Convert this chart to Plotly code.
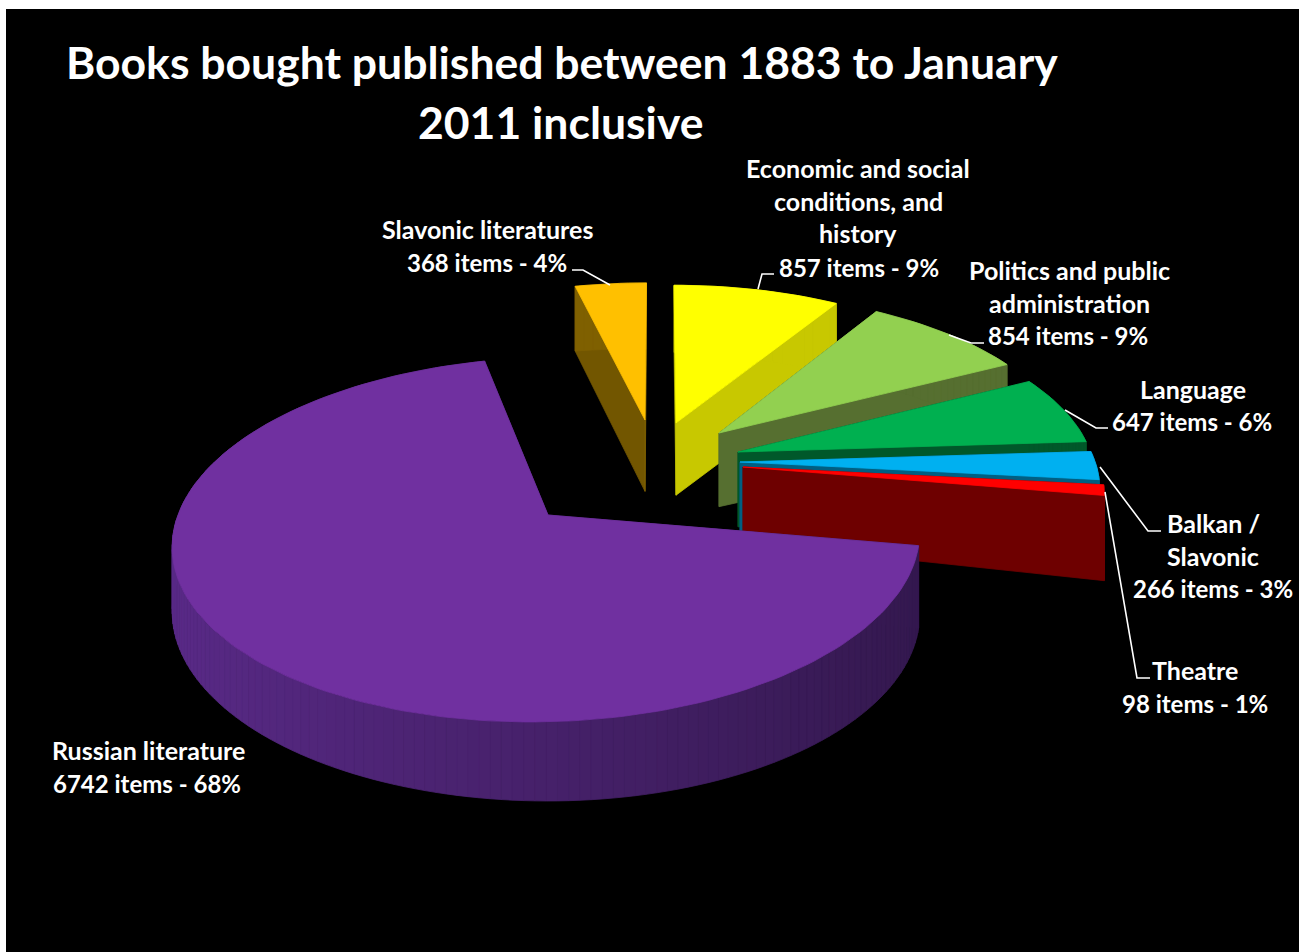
import numpy as np
import plotly.graph_objects as go

# ---- data ----
categories = ["Slavonic literatures", "Economic and social conditions, and history",
              "Politics and public administration", "Language", "Balkan / Slavonic",
              "Theatre", "Russian literature"]
items = [368, 857, 854, 647, 266, 98, 6742]
percent_labels = ["4%", "9%", "9%", "6%", "3%", "1%", "68%"]
title_lines = ["Books bought published between 1883 to January", "2011 inclusive"]

# ---- style ----
top_colors = ["#FFC000", "#FFFF00", "#92D050", "#00B050", "#00B0F0", "#FF0000", "#7030A0"]
wall_colors = ["#7F6000", "#C8C800", "#566F30", "#00582A", "#005F82", "#6E0000", "#4A2370"]
apex = [(645, 420), (676, 423), (719, 433), (738, 452), (740, 462), (743, 467), (548, 515)]
START_ANGLE = -13.5      # degrees clockwise from north where the first slice starts
CX, CY, A, B, K = 660.0, 515.0, 370.0, 179.0, 0.135
XP = 1.0                 # share of the perspective that acts on x
WHITE = "#FFFFFF"
FONT = "Lato"


def project(u, v):
    s = 1.0 / (1.0 - K * v)
    return CX + A * u * (1 + XP * (s - 1)), CY + B * v * s


def unproject(sx, sy):
    w = (sy - CY) / B
    v = w / (1 + K * w)
    s = 1.0 / (1.0 - K * v)
    return (sx - CX) / (A * (1 + XP * (s - 1))), v


def depth(u, v):
    s = 1.0 / (1.0 - K * v)
    return 75.0 * s ** 0.6 * (1 + 0.12 * np.clip(u, -1.3, 1.3))


def shade(hex_color, f):
    r, g, b = (int(hex_color[i:i + 2], 16) for i in (1, 3, 5))
    return f"rgb({int(r * f)},{int(g * f)},{int(b * f)})"


fig = go.Figure()


def poly(xs, ys, color, name):
    fig.add_trace(go.Scatter(x=list(xs) + [xs[0]], y=list(ys) + [ys[0]], mode="lines", fill="toself",
                             fillcolor=color, line=dict(color=color, width=0.8),
                             hoverinfo="text", text=name, showlegend=False))


def wall(p, q, color, name):
    (u0, v0), (u1, v1) = p, q
    x0, y0 = project(u0, v0)
    x1, y1 = project(u1, v1)
    poly([x0, x1, x1, x0], [y0, y1, y1 + depth(u1, v1), y0 + depth(u0, v0)], color, name)


sweeps = 360.0 * np.array(items) / np.sum(items)
starts = START_ANGLE + np.concatenate([[0.0], np.cumsum(sweeps)[:-1]])

for i, name in enumerate(categories):
    u0, v0 = unproject(*apex[i])
    n = max(8, int(sweeps[i] / 1.5))
    th = np.radians(np.linspace(starts[i], starts[i] + sweeps[i], n + 1))
    us = u0 + np.sin(th)
    vs = v0 - np.cos(th)
    # radial walls, then the outer wall
    wall((u0, v0), (us[0], vs[0]), shade(wall_colors[i], 0.9), name)
    wall((u0, v0), (us[-1], vs[-1]), wall_colors[i], name)
    order = np.argsort(vs[:-1])
    for j in order:
        um = 0.5 * (us[j] + us[j + 1]) - u0
        f = 1.22 - 0.52 * (um + 1) / 2 if name == categories[-1] else 1.0
        wall((us[j], vs[j]), (us[j + 1], vs[j + 1]), shade(wall_colors[i], min(f, 1.25)), name)
    # top face
    px, py = project(np.r_[u0, us], np.r_[v0, vs])
    poly(px, py, top_colors[i], name)

# ---- text ----
ann = []


def text(x, y, s, size):
    ann.append(dict(x=x, y=y, xref="x", yref="y", text=s, showarrow=False, xanchor="center", yanchor="middle",
                    font=dict(family=FONT, size=size, color=WHITE, weight="bold")))


text(562, 61, title_lines[0], 44.5)
text(560, 121, title_lines[1], 44.5)

label_lines = [
    ([categories[0]], 487, 229),
    (["Economic and social", "conditions, and", "history"], 858, 168),
    (["Politics and public", "administration"], 1069, 270),
    ([categories[3]], 1193, 389),
    (["Balkan /", "Slavonic"], 1213, 523),
    ([categories[5]], 1195, 670),
    ([categories[6]], 148, 750),
]
count_centres = [(487, 262), (859, 267), (1068, 335), (1192, 421), (1213, 588), (1195, 703), (147, 783)]
for i, (lines, cx_, y0) in enumerate(label_lines):
    for k, line in enumerate(lines):
        text(cx_, y0 + k * 32.7, line, 25)
    text(count_centres[i][0], count_centres[i][1], f"{items[i]} items - {percent_labels[i]}", 24)

leaders = [
    [(572, 270), (583, 270), (610, 285)],
    [(774, 274), (762, 274), (758, 289)],
    [(984, 343), (971, 343), (949, 335)],
    [(1108, 428), (1096, 428), (1065, 410)],
    [(1161, 531), (1148, 531), (1100, 467)],
    [(1150, 678), (1137, 678), (1105, 492)],
]
shapes = []
for pts in leaders:
    path = "M " + " L ".join(f"{x},{y}" for x, y in pts)
    shapes.append(dict(type="path", path=path, xref="x", yref="y", line=dict(color=WHITE, width=1.6)))

fig.update_layout(
    width=1306, height=952, margin=dict(l=6, r=7, t=9, b=0),
    paper_bgcolor="#FFFFFF", plot_bgcolor="#000000", showlegend=False,
    xaxis=dict(range=[6, 1299], visible=False, fixedrange=True),
    yaxis=dict(range=[952, 9], visible=False, fixedrange=True),
    annotations=ann, shapes=shapes,
)
fig.write_html("out.html", config=dict(displayModeBar=False),
               post_script="document.body.style.margin='0';document.body.style.overflow='hidden';")
